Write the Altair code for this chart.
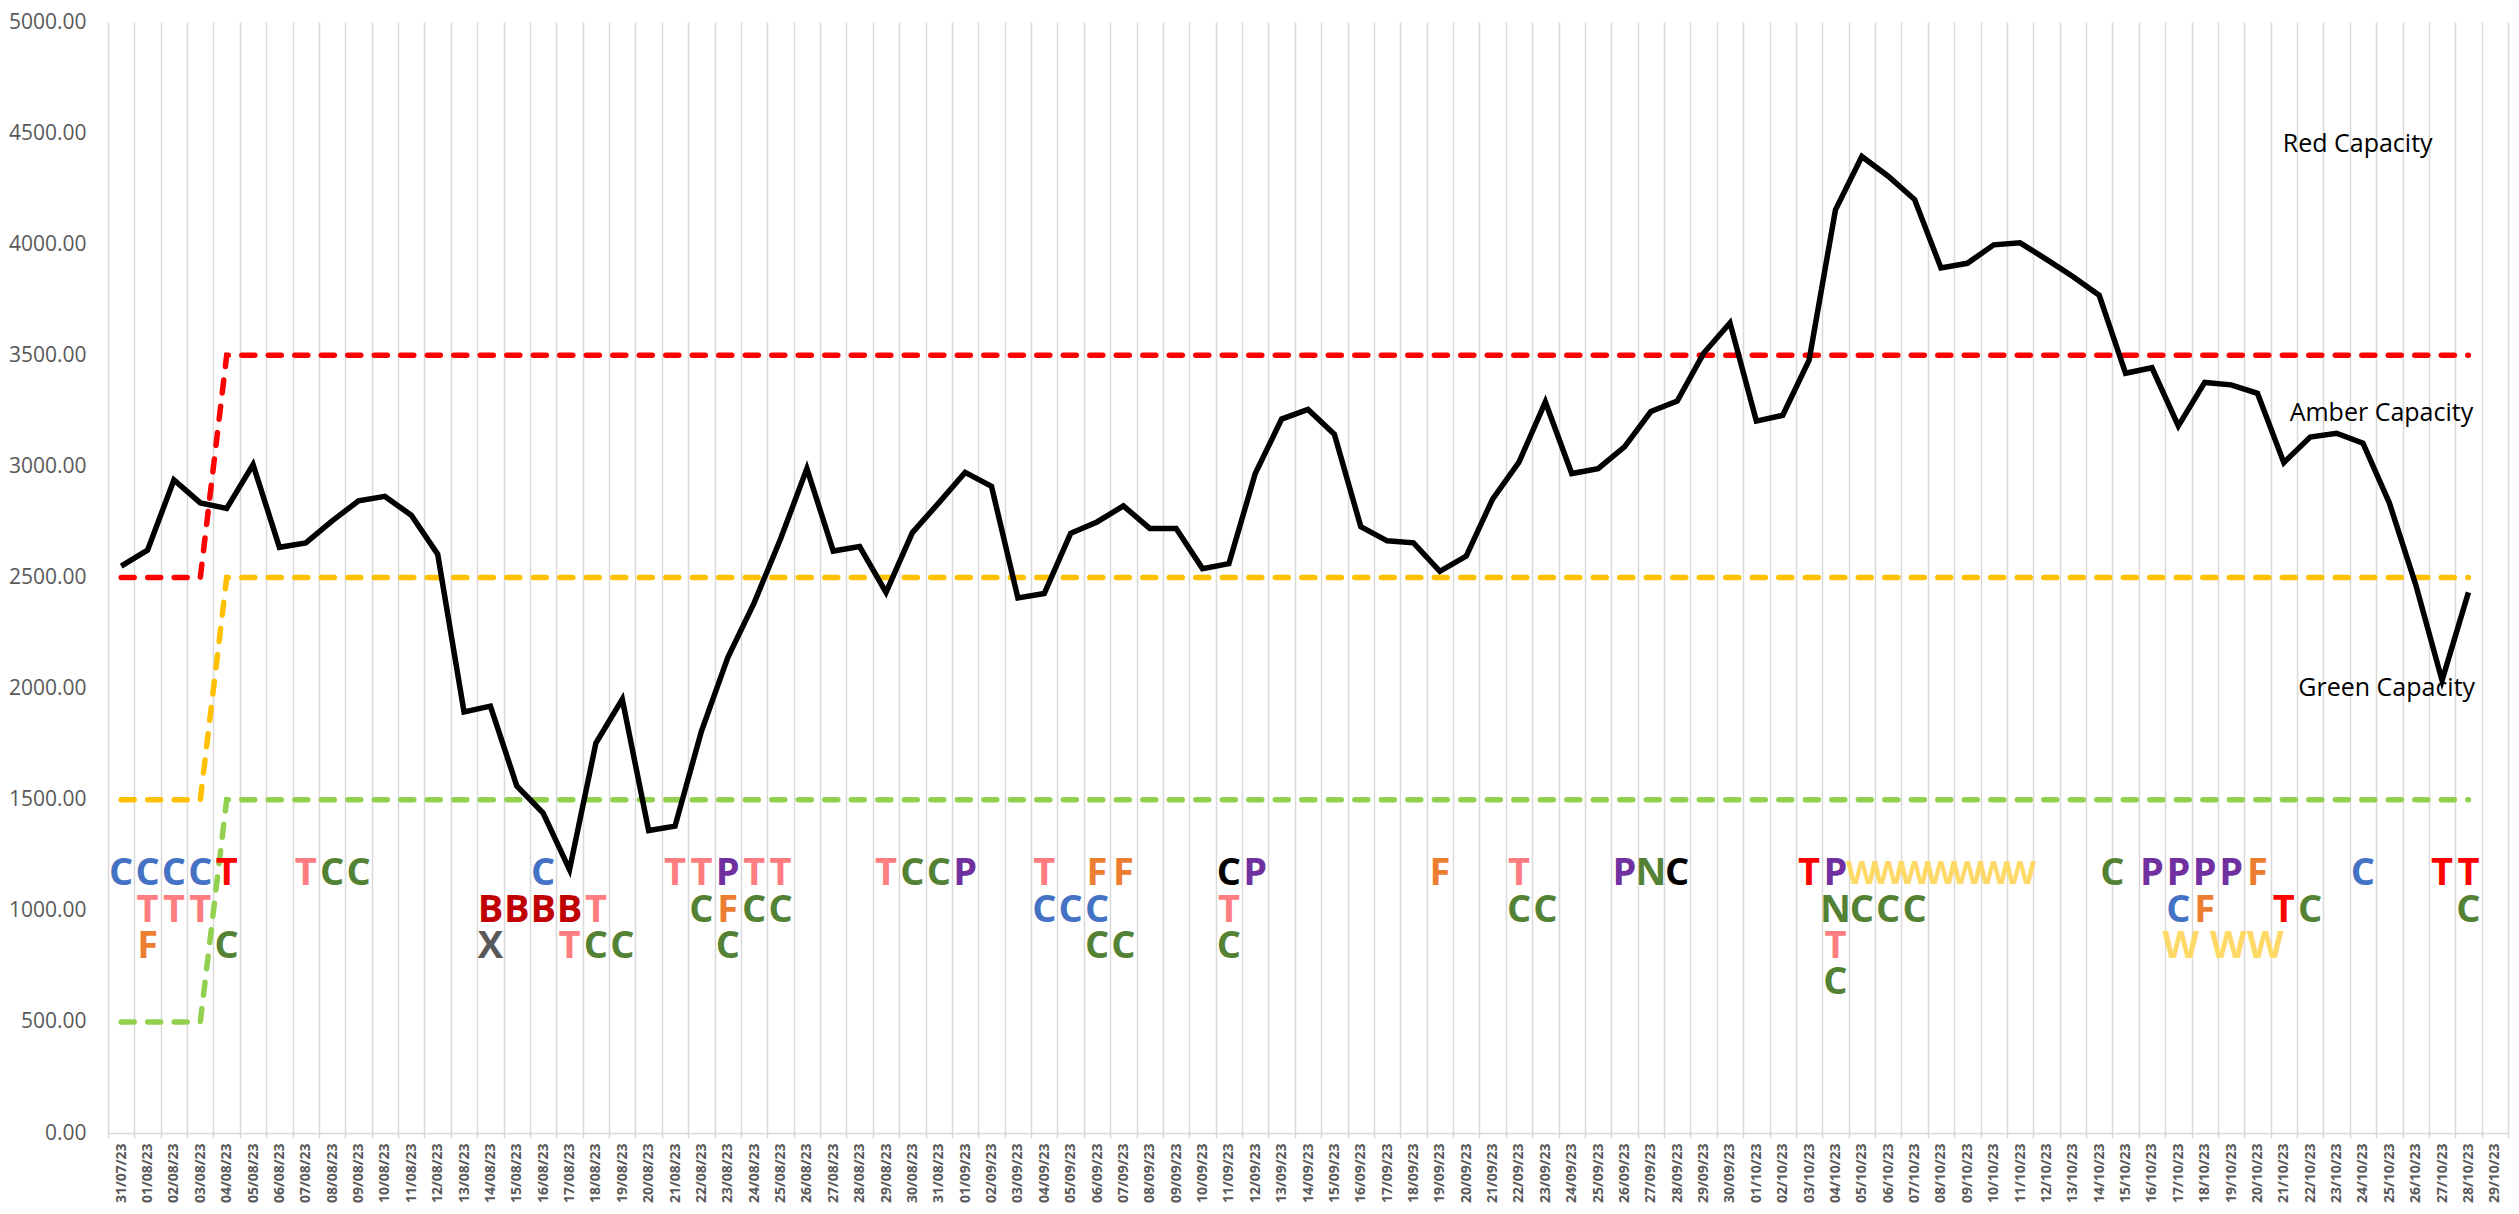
import altair as alt
import pandas as pd

# ---------------- data ----------------
DATES = list(pd.date_range("2023-07-31", "2023-10-29", freq="D").strftime("%d/%m/%y"))

VALUES = [2551, 2623, 2939, 2836, 2811, 3008, 2636, 2656, 2755, 2845,
          2865, 2780, 2605, 1895, 1921, 1562, 1440, 1185, 1755, 1952,
          1361, 1381, 1808, 2140, 2386, 2673, 2990, 2619, 2639, 2433,
          2702, 2836, 2973, 2910, 2408, 2428, 2699, 2750, 2822, 2721,
          2721, 2540, 2562, 2968, 3213, 3256, 3145, 2729, 2665, 2656,
          2528, 2596, 2853, 3019, 3290, 2968, 2990, 3088, 3247, 3294,
          3509, 3646, 3204, 3230, 3478, 4155, 4395, 4306, 4201, 3893,
          3914, 3997, 4006, 3932, 3855, 3770, 3419, 3444, 3182, 3378,
          3367, 3329, 3017, 3132, 3149, 3105, 2836, 2468, 2037, 2433]

RED_CAP = [2500] * 4 + [3500] * 86
AMBER_CAP = [1500] * 4 + [2500] * 86
GREEN_CAP = [500] * 4 + [1500] * 86

CAP_LABELS = ["Red Capacity", "Amber Capacity", "Green Capacity"]
CAP_LABEL_DAY = [85.3, 86.2, 86.4]
CAP_LABEL_VALUE = [4452, 3242, 2003]

ROW_VALUE = {1: 1165, 2: 1000, 3: 835, 4: 674}

# (day index, row, letter, colour group)
ANNOTATIONS = [
    (0, 1, "C", "blue"), (1, 1, "C", "blue"), (2, 1, "C", "blue"), (3, 1, "C", "blue"),
    (1, 2, "T", "pink"), (2, 2, "T", "pink"), (3, 2, "T", "pink"),
    (1, 3, "F", "orange"),
    (4, 1, "T", "red"), (4, 3, "C", "green"),
    (7, 1, "T", "pink"), (8, 1, "C", "green"), (9, 1, "C", "green"),
    (14, 2, "B", "darkred"), (15, 2, "B", "darkred"), (16, 2, "B", "darkred"),
    (17, 2, "B", "darkred"), (18, 2, "T", "pink"),
    (14, 3, "X", "grey"), (17, 3, "T", "pink"), (18, 3, "C", "green"), (19, 3, "C", "green"),
    (16, 1, "C", "blue"),
    (21, 1, "T", "pink"), (22, 1, "T", "pink"), (23, 1, "P", "purple"),
    (24, 1, "T", "pink"), (25, 1, "T", "pink"),
    (22, 2, "C", "green"), (23, 2, "F", "orange"), (24, 2, "C", "green"), (25, 2, "C", "green"),
    (23, 3, "C", "green"),
    (29, 1, "T", "pink"), (30, 1, "C", "green"), (31, 1, "C", "green"), (32, 1, "P", "purple"),
    (35, 1, "T", "pink"), (37, 1, "F", "orange"), (38, 1, "F", "orange"),
    (35, 2, "C", "blue"), (36, 2, "C", "blue"), (37, 2, "C", "blue"),
    (37, 3, "C", "green"), (38, 3, "C", "green"),
    (42, 1, "C", "black"), (43, 1, "P", "purple"), (42, 2, "T", "pink"), (42, 3, "C", "green"),
    (50, 1, "F", "orange"),
    (53, 1, "T", "pink"), (53, 2, "C", "green"), (54, 2, "C", "green"),
    (57, 1, "P", "purple"), (58, 1, "N", "green"), (59, 1, "C", "black"),
    (64, 1, "T", "red"), (65, 1, "P", "purple"), (65, 2, "N", "green"),
    (65, 3, "T", "pink"), (65, 4, "C", "green"),
    (66, 2, "C", "green"), (67, 2, "C", "green"), (68, 2, "C", "green"),
    (75.5, 1, "C", "green"),
    (77, 1, "P", "purple"), (78, 1, "P", "purple"), (79, 1, "P", "purple"),
    (80, 1, "P", "purple"), (81, 1, "F", "orange"),
    (78, 2, "C", "blue"), (79, 2, "F", "orange"),
    (78.1, 3, "W", "yellow"), (79.9, 3, "W", "yellow"), (81.3, 3, "W", "yellow"),
    (82, 2, "T", "red"), (83, 2, "C", "green"),
    (85, 1, "C", "blue"),
    (88, 1, "T", "red"), (89, 1, "T", "red"), (89, 2, "C", "green"),
]
# the run of W's on the top row in early October
W_RUN_DAYS = [66, 67, 68, 69, 70, 71, 72]

COLOUR_GROUPS = ["blue", "pink", "orange", "green", "red", "darkred", "grey",
                 "purple", "black", "yellow"]
COLOUR_HEX = ["#4472C4", "#FF7C80", "#ED7D31", "#548235", "#FF0000", "#C00000",
              "#595959", "#7030A0", "#000000", "#FFD966"]

# ---------------- frames ----------------
n_days = len(DATES)
line_df = pd.DataFrame({"pos": [i + 0.5 for i in range(len(VALUES))], "value": VALUES})

cap_rows = []
for level, arr in [("Red", RED_CAP), ("Amber", AMBER_CAP), ("Green", GREEN_CAP)]:
    for i, v in enumerate(arr):
        cap_rows.append({"pos": i + 0.5, "value": v, "level": level})
cap_df = pd.DataFrame(cap_rows)

ann_df = pd.DataFrame([
    {"pos": d + 0.5, "value": ROW_VALUE[r], "letter": l, "group": g}
    for d, r, l, g in ANNOTATIONS
])
w_df = pd.DataFrame([
    {"pos": d + 0.5, "value": ROW_VALUE[1], "letter": "W", "group": "yellow"}
    for d in W_RUN_DAYS
])
cap_lab_df = pd.DataFrame({"pos": CAP_LABEL_DAY, "value": CAP_LABEL_VALUE, "label": CAP_LABELS})

# ---------------- chart ----------------
W, H = 2400, 1111
band_px = W / n_days
FONT = "Open Sans"

label_array = "[" + ",".join("'" + d + "'" for d in DATES) + "]"
x_scale = alt.Scale(domain=[0, n_days], nice=False, zero=False)
y_scale = alt.Scale(domain=[0, 5000], nice=False)

x_axis = alt.Axis(
    values=list(range(n_days + 1)), tickCount=200,
    labelExpr=f"datum.value < {n_days} ? {label_array}[datum.value] : ''",
    labelAngle=270, labelOffset=band_px / 2, labelPadding=5,
    labelFont=FONT, labelFontSize=14, labelFontWeight="bold", labelColor="#595959",
    labelOverlap=False, labelFlush=False, labelBound=False,
    grid=True, gridColor="#D9D9D9", gridWidth=1.5,
    domain=True, domainColor="#D9D9D9", domainWidth=1.5,
    ticks=True, tickColor="#D9D9D9", tickWidth=1.5, tickSize=5,
    title=None,
)
y_axis = alt.Axis(
    values=list(range(0, 5001, 500)), tickCount=20, format=".2f",
    labelFont=FONT, labelFontSize=21, labelColor="#595959", labelPadding=22,
    grid=False, domain=False, ticks=False, tickSize=0, title=None,
)

X = alt.X("pos:Q", scale=x_scale, axis=x_axis)
Y = alt.Y("value:Q", scale=y_scale, axis=y_axis)

caps = alt.Chart(cap_df).mark_line(
    strokeWidth=5.5, strokeDash=[13, 13.5], strokeCap="round"
).encode(
    x=X, y=Y,
    color=alt.Color("level:N", scale=alt.Scale(domain=["Red", "Amber", "Green"],
                                               range=["#FF0000", "#FFC000", "#92D050"]),
                    legend=None),
    detail="level:N",
)

main_line = alt.Chart(line_df).mark_line(color="#000000", strokeWidth=5.5).encode(x=X, y=Y)

colour_scale = alt.Scale(domain=COLOUR_GROUPS, range=COLOUR_HEX)

letters = alt.Chart(ann_df).mark_text(
    font=FONT, fontWeight="bold", fontSize=38, align="center", baseline="middle"
).encode(x=X, y=Y, text="letter:N",
         color=alt.Color("group:N", scale=colour_scale, legend=None))

w_run = alt.Chart(w_df).mark_text(
    font=FONT, fontWeight="bold", fontSize=33, align="center", baseline="middle"
).encode(x=X, y=Y, text="letter:N",
         color=alt.Color("group:N", scale=colour_scale, legend=None))

cap_labels = alt.Chart(cap_lab_df).mark_text(
    font=FONT, fontSize=25, color="#000000", align="center", baseline="middle"
).encode(x=X, y=Y, text="label:N")

chart = alt.layer(caps, main_line, w_run, letters, cap_labels).resolve_scale(
    color="independent"
).properties(
    width=W, height=H,
    autosize=alt.AutoSizeParams(type="none"),
    padding={"left": 100, "top": 14, "right": 3, "bottom": 73},
).configure_view(stroke=None)

chart.save("out.html", embed_options={"renderer": "svg", "actions": False})
